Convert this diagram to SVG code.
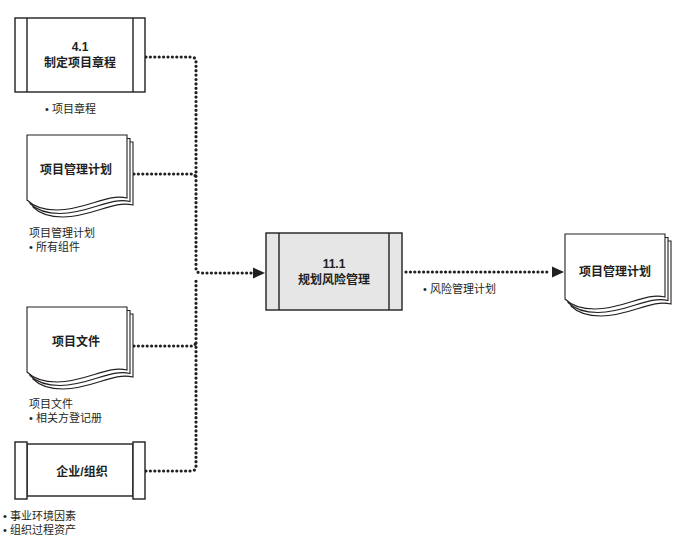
<svg xmlns="http://www.w3.org/2000/svg" width="689" height="542" viewBox="0 0 689 542">
<style>
.box{fill:#fff;stroke:#231f20;stroke-width:1.4}
.gray{fill:#e6e6e6;stroke:#231f20;stroke-width:1.4}
.pg{fill:#fff;stroke:#231f20;stroke-width:1.1}
.dot{fill:none;stroke:#231f20;stroke-width:3.2;stroke-linecap:round;stroke-dasharray:0 4.4}
.t{font-family:"Liberation Sans","Noto Sans CJK SC",sans-serif;font-size:12px;font-weight:bold;fill:#231f20;text-anchor:middle}
.l{font-family:"Liberation Sans","Noto Sans CJK SC",sans-serif;font-size:11px;fill:#231f20}
</style>
<defs>
<path id="page" d="M0,0 H100 V63 C80,58 60,75 30,75 C15,75 5,70 0,65 Z"/>
<g id="doc">
<use href="#page" class="pg" x="6" y="7"/>
<use href="#page" class="pg" x="3" y="3.5"/>
<use href="#page" class="pg"/>
</g>
<marker id="arr" markerUnits="userSpaceOnUse" markerWidth="14" markerHeight="12" refX="12" refY="6" orient="auto">
<path d="M0,0.5 L12,6 L0,11.5 Z" fill="#231f20"/>
</marker>
</defs>

<g id="connectors">
<path class="dot" d="M146,57 H191 Q196,57 196,62 V268 Q196,273 201,273 H252"/>
<path class="dot" d="M134,174 H191 Q196,174 196,179"/>
<path class="dot" d="M134,346 H191 Q196,346 196,341"/>
<path class="dot" d="M146,471 H191 Q196,471 196,466 V278"/>
<path d="M252,273 H265" stroke="none" fill="none" marker-end="url(#arr)"/>
<path class="dot" d="M406,272 H550"/>
<path d="M550,272 H564" stroke="none" fill="none" marker-end="url(#arr)"/>
</g>

<g id="n41">
<rect class="box" x="15" y="18" width="130" height="74"/>
<line class="box" x1="27" y1="18" x2="27" y2="92"/>
<line class="box" x1="133" y1="18" x2="133" y2="92"/>
<text class="t" x="80" y="51">4.1</text>
<text class="t" x="80" y="67">制定项目章程</text>
<text class="l" x="45" y="113">• 项目章程</text>
</g>

<g id="pmp">
<use href="#doc" x="27" y="135"/>
<text class="t" x="76" y="174">项目管理计划</text>
<text class="l" x="29" y="237">项目管理计划</text>
<text class="l" x="29" y="251">• 所有组件</text>
</g>

<g id="pdocs">
<use href="#doc" x="27" y="307"/>
<text class="t" x="76" y="346">项目文件</text>
<text class="l" x="29" y="408">项目文件</text>
<text class="l" x="29" y="422">• 相关方登记册</text>
</g>

<g id="org">
<rect class="box" x="27" y="444" width="106" height="52"/>
<rect class="box" x="15" y="442" width="12" height="57"/>
<rect class="box" x="133" y="442" width="12" height="57"/>
<text class="t" x="82" y="476">企业/组织</text>
<text class="l" x="3" y="520">• 事业环境因素</text>
<text class="l" x="3" y="534">• 组织过程资产</text>
</g>

<g id="n111">
<rect class="gray" x="266" y="233" width="136" height="77"/>
<line class="box" x1="279" y1="233" x2="279" y2="310"/>
<line class="box" x1="389" y1="233" x2="389" y2="310"/>
<text class="t" x="334" y="268">11.1</text>
<text class="t" x="334" y="284">规划风险管理</text>
<text class="l" x="423" y="293">• 风险管理计划</text>
</g>

<g id="pmpout">
<use href="#doc" x="565" y="234"/>
<text class="t" x="615" y="276">项目管理计划</text>
</g>
</svg>
